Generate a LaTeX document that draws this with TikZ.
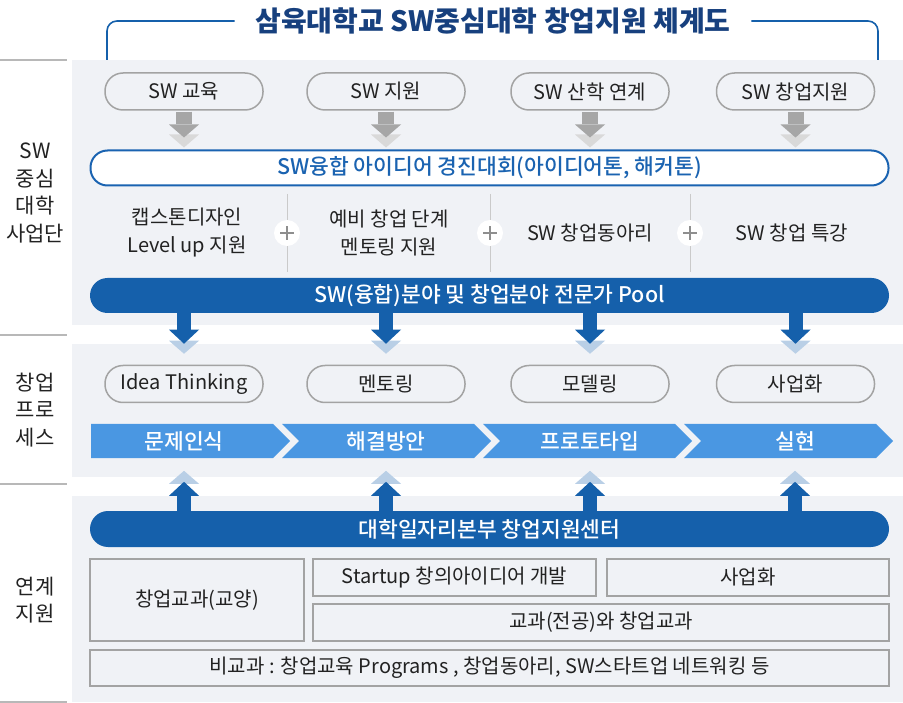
\documentclass[tikz,border=0pt]{standalone}
\usepackage{fontspec}
\setmainfont{Noto Sans CJK KR}
\newfontfamily\medfont{Noto Sans CJK KR Medium}
\usetikzlibrary{arrows.meta,calc}

\definecolor{navy}{HTML}{17407E}
\definecolor{barblue}{HTML}{1560AB}
\definecolor{conblue}{HTML}{1A63B1}
\definecolor{chevblue}{HTML}{4A97E2}
\definecolor{paleblue}{HTML}{B9CFE6}
\definecolor{panelgray}{HTML}{F0F2F6}
\definecolor{pillgray}{HTML}{A3A3A3}
\definecolor{arrgray}{HTML}{A6A6A6}
\definecolor{palegray}{HTML}{D9D9D9}
\definecolor{rulegray}{HTML}{B8B8B8}
\definecolor{sepgray}{HTML}{CACACA}
\definecolor{txt}{HTML}{222222}

\begin{document}
\begin{tikzpicture}[x=1pt,y=-1pt,
	every node/.style={font=\fontsize{20}{28}\selectfont, text=txt},
	pill/.style={draw=pillgray, line width=1.5pt, fill=panelgray, rounded corners=18pt, minimum width=158pt, minimum height=37pt, inner sep=0pt},
	bar/.style={fill=barblue, rounded corners=17.5pt, minimum width=799pt, minimum height=35pt, inner sep=0pt, text=white, font=\fontsize{21.5}{26}\selectfont\medfont},
	box/.style={draw=pillgray, line width=1.5pt, fill=panelgray, inner sep=0pt},
	plus/.style={circle, fill=white, minimum size=26pt, inner sep=0pt, path picture={
		\draw[sepgray!70!black, line width=1.3pt] ([xshift=-7pt]path picture bounding box.center) -- ([xshift=7pt]path picture bounding box.center);
		\draw[sepgray!70!black, line width=1.3pt] ([yshift=-7pt]path picture bounding box.center) -- ([yshift=7pt]path picture bounding box.center);}},
	step label/.style={text=white, font=\fontsize{21.5}{26}\selectfont\medfont},
	side/.style={align=center, font=\fontsize{21}{27.5}\selectfont},
	bracket/.style={draw=barblue, line width=1.6pt, rounded corners=10pt},
	garr/.style={draw=arrgray, line width=16pt, -{Triangle[width=30pt,length=13pt,line width=0pt]}},
	barr/.style={draw=barblue, line width=14pt, -{Triangle[width=30pt,length=14pt,line width=0pt]}}]

	\useasboundingbox (0,0) rectangle (903,703);
	% panels
	\fill[panelgray] (72,60) rectangle (903,325);
	\fill[panelgray] (72,344) rectangle (903,477);
	\fill[panelgray] (72,496) rectangle (903,702);
	\draw[rulegray, line width=1.5pt] (0,60) -- (67,60);
	\draw[rulegray, line width=1.5pt] (0,335) -- (67,335);
	\draw[rulegray, line width=1.5pt] (0,484) -- (67,484);
	\draw[rulegray, line width=1.5pt] (0,702) -- (67,702);

	% title
	\node[font=\fontsize{28}{30}\selectfont\bfseries, text=navy] (title) at (493,21) {삼육대학교 SW중심대학 창업지원 체계도};
	\draw[bracket] ([xshift=-17pt]title.west) -| (107,60);
	\draw[bracket] ([xshift=17pt]title.east) -| (878,60);

	% side labels
	\node[side] (lab1) at (35,193) {SW\\중심\\대학\\사업단};
	\node[side] (lab2) at (35,410) {창업\\프로\\세스};
	\node[side] (lab3) at (35,600) {연계\\지원};

	% support programmes
	\node[pill] (s1) at (184,91.5) {SW 교육};
	\node[pill] (s2) at (386,91.5) {SW 지원};
	\node[pill] (s3) at (590,91.5) {SW 산학 연계};
	\node[pill] (s4) at (795.5,91.5) {SW 창업지원};
	\node[draw=conblue, line width=2pt, fill=white, rounded corners=17pt, minimum width=798pt, minimum height=35pt, inner sep=0pt, text=conblue, font=\fontsize{21.5}{26}\selectfont\medfont] (con) at (489.5,168) {SW융합 아이디어 경진대회(아이디어톤, 해커톤)};
	\fill[palegray] ($(s1.south |- con.north)+(-15,-15)$) -- ++(30,0) -- ++(-15,13) -- cycle;
	\fill[palegray] ($(s2.south |- con.north)+(-15,-15)$) -- ++(30,0) -- ++(-15,13) -- cycle;
	\fill[palegray] ($(s3.south |- con.north)+(-15,-15)$) -- ++(30,0) -- ++(-15,13) -- cycle;
	\fill[palegray] ($(s4.south |- con.north)+(-15,-15)$) -- ++(30,0) -- ++(-15,13) -- cycle;
	\draw[garr] ($(s1.south)+(0,0.8)$) -- ($(s1.south |- con.north)+(0,-12)$);
	\draw[garr] ($(s2.south)+(0,0.8)$) -- ($(s2.south |- con.north)+(0,-12)$);
	\draw[garr] ($(s3.south)+(0,0.8)$) -- ($(s3.south |- con.north)+(0,-12)$);
	\draw[garr] ($(s4.south)+(0,0.8)$) -- ($(s4.south |- con.north)+(0,-12)$);

	\draw[sepgray] (287,194) -- (287,272);
	\draw[sepgray] (490,194) -- (490,272);
	\draw[sepgray] (690,194) -- (690,272);
	\node[align=center] (m1) at (187,233) {캡스톤디자인\\Level up 지원};
	\node[align=center] (m2) at (389,233) {예비 창업 단계\\멘토링 지원};
	\node (m3) at (590,233) {SW 창업동아리};
	\node (m4) at (792,233) {SW 창업 특강};
	\node[plus] (pl1) at (287,233) {};
	\node[plus] (pl2) at (490,233) {};
	\node[plus] (pl3) at (690,233) {};
	\node[bar] (pool) at (489.5,295.5) {SW(융합)분야 및 창업분야 전문가 Pool};

	% startup process
	\node[pill] (i1) at (184,384) {Idea Thinking};
	\node[pill] (i2) at (386,384) {멘토링};
	\node[pill] (i3) at (590,384) {모델링};
	\node[pill] (i4) at (795.5,384) {사업화};
	\fill[paleblue] ($(i1.north)+(-15,-24)$) -- ++(30,0) -- ++(-15,13) -- cycle;
	\fill[paleblue] ($(i2.north)+(-15,-24)$) -- ++(30,0) -- ++(-15,13) -- cycle;
	\fill[paleblue] ($(i3.north)+(-15,-24)$) -- ++(30,0) -- ++(-15,13) -- cycle;
	\fill[paleblue] ($(i4.north)+(-15,-24)$) -- ++(30,0) -- ++(-15,13) -- cycle;
	\draw[barr] ($(i1 |- pool.south)+(0,-1)$) -- ($(i1.north)+(0,-21)$);
	\draw[barr] ($(i2 |- pool.south)+(0,-1)$) -- ($(i2.north)+(0,-21)$);
	\draw[barr] ($(i3 |- pool.south)+(0,-1)$) -- ($(i3.north)+(0,-21)$);
	\draw[barr] ($(i4 |- pool.south)+(0,-1)$) -- ($(i4.north)+(0,-21)$);

	\fill[chevblue] (91,424) -- (273,424) -- (290,441) -- (273,458) -- (91,458) -- cycle;
	\fill[chevblue] (282,424) -- (474,424) -- (491,441) -- (474,458) -- (282,458) -- (299,441) -- cycle;
	\fill[chevblue] (483,424) -- (675,424) -- (692,441) -- (675,458) -- (483,458) -- (500,441) -- cycle;
	\fill[chevblue] (684,424) -- (876,424) -- (893,441) -- (876,458) -- (684,458) -- (701,441) -- cycle;
	\node[step label] (p1) at (184,441) {문제인식};
	\node[step label] (p2) at (386,441) {해결방안};
	\node[step label] (p3) at (590,441) {프로토타입};
	\node[step label] (p4) at (795,441) {실현};

	% linked support
	\node[bar, minimum height=36pt, rounded corners=18pt] (ctr) at (489.5,529) {대학일자리본부 창업지원센터};
	\fill[paleblue] ($(p1 |- ctr.north)+(-15,-27)$) -- ++(30,0) -- ++(-15,-13) -- cycle;
	\fill[paleblue] ($(p2 |- ctr.north)+(-15,-27)$) -- ++(30,0) -- ++(-15,-13) -- cycle;
	\fill[paleblue] ($(p3 |- ctr.north)+(-15,-27)$) -- ++(30,0) -- ++(-15,-13) -- cycle;
	\fill[paleblue] ($(p4 |- ctr.north)+(-15,-27)$) -- ++(30,0) -- ++(-15,-13) -- cycle;
	\draw[barr] ($(p1 |- ctr.north)+(0,1)$) -- ($(p1 |- ctr.north)+(0,-29)$);
	\draw[barr] ($(p2 |- ctr.north)+(0,1)$) -- ($(p2 |- ctr.north)+(0,-29)$);
	\draw[barr] ($(p3 |- ctr.north)+(0,1)$) -- ($(p3 |- ctr.north)+(0,-29)$);
	\draw[barr] ($(p4 |- ctr.north)+(0,1)$) -- ($(p4 |- ctr.north)+(0,-29)$);

	\node[box, minimum width=214pt, minimum height=82pt] (b1) at (197,600) {창업교과(교양)};
	\node[box, minimum width=283pt, minimum height=37pt] (b2) at (454.5,577.5) {Startup 창의아이디어 개발};
	\node[box, minimum width=282pt, minimum height=37pt] (b3) at (748,577.5) {사업화};
	\node[box, minimum width=576pt, minimum height=37pt] (b4) at (601,622.5) {교과(전공)와 창업교과};
	\node[box, minimum width=799pt, minimum height=36pt] (b5) at (489.5,668) {비교과 : 창업교육 Programs , 창업동아리, SW스타트업 네트워킹 등};
\end{tikzpicture}
\end{document}
